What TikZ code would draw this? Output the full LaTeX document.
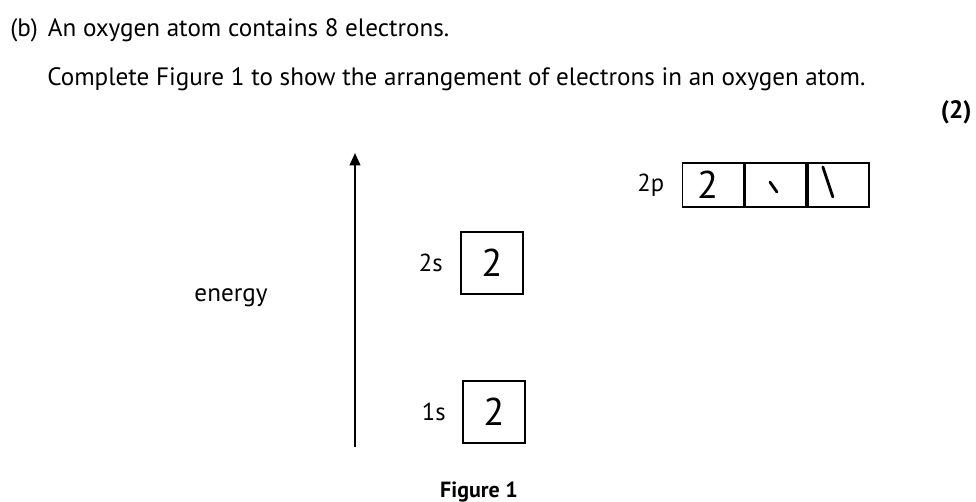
\documentclass[tikz,border=0pt]{standalone}
\usepackage{fontspec}
\setmainfont{PT Sans}
\usetikzlibrary{arrows.meta, positioning}

\begin{document}
\begin{tikzpicture}[
  x=0.02cm, y=-0.02cm, >={Triangle[length=7pt, width=6pt]},
  txt/.style={font=\fontsize{14.3}{17}\selectfont, inner sep=0pt},
  lvl/.style={font=\fontsize{14}{16}\selectfont, inner sep=0pt},
  orb/.style={draw, line width=1.1pt, minimum width=1.22cm, minimum height=0.88cm, inner sep=0pt},
  orbsq/.style={orb, minimum width=1.24cm, minimum height=1.24cm},
  hand/.style={font=\fontsize{22}{22}\selectfont, inner sep=0pt},
  spin/.style={line width=1.6pt, line cap=round}
]
  \useasboundingbox (0,0) rectangle (976,502);

  % question text
  \node[txt, anchor=west] (qb) at (10,30) {(b)\hspace{0.4em}An oxygen atom contains 8 electrons.};
  \node[txt, anchor=west] (qc) at (47,79) {Complete Figure 1 to show the arrangement of electrons in an oxygen atom.};
  \node[txt, font=\fontsize{14.3}{17}\selectfont\bfseries, anchor=east] (mk) at (972,112) {(2)};

  % energy axis
  \coordinate (ebot) at (355,447);
  \coordinate (etop) at (355,153);
  \draw[->, line width=1.2pt] (ebot) -- (etop);
  \node[txt] (en) at (231,298) {energy};

  % 1s and 2s boxes
  \node[orbsq] (s1) at (494,412) {};
  \node[lvl, left=0.32cm of s1] (s1l) {1s};
  \node[hand] at (s1) {2};
  \node[orbsq] (s2) at (492,263) {};
  \node[lvl, left=0.34cm of s2] (s2l) {2s};
  \node[hand] at (s2) {2};

  % 2p boxes
  \node[orb] (p1) at (713,185) {};
  \node[orb, right=0pt of p1] (p2) {};
  \node[orb, right=0pt of p2] (p3) {};
  \node[lvl, left=0.34cm of p1] (pl) {2p};
  \node[hand] at ([xshift=-3]p1.center) {2};
  \draw[spin] ([shift={(-6,-3)}]p2.center) -- ([shift={(1,7)}]p2.center);
  \draw[spin] ([shift={(-16,-18)}]p3.center) -- ([shift={(-6,12)}]p3.center);

  \node[txt, font=\fontsize{12.5}{15}\selectfont\bfseries] (fig) at (479,492) {Figure 1};
\end{tikzpicture}
\end{document}
